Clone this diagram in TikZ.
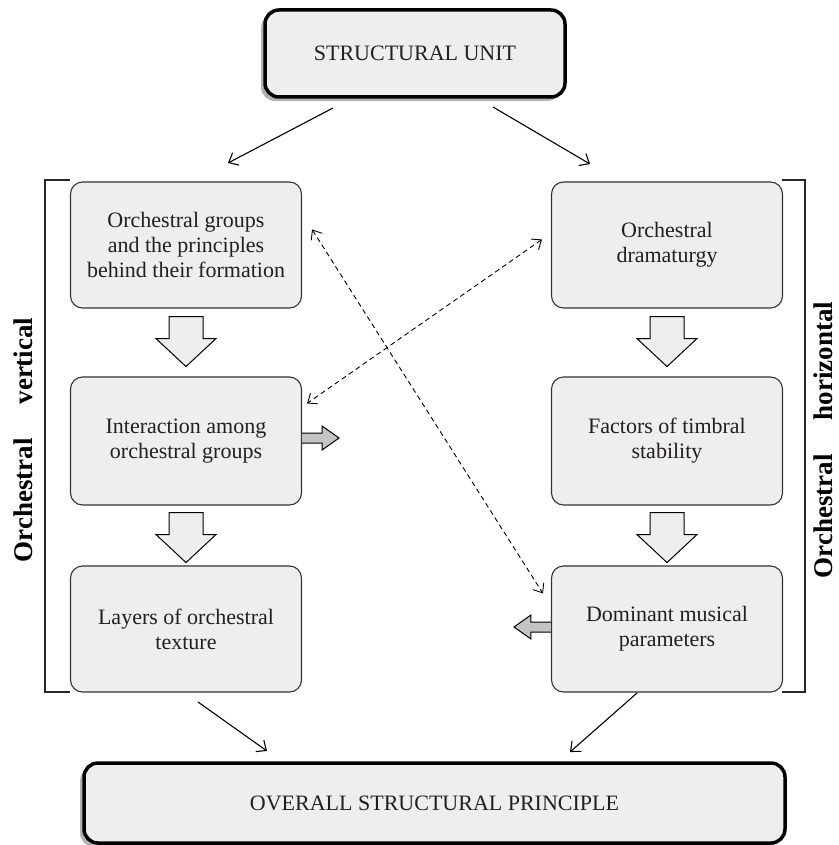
\documentclass[tikz,border=0pt]{standalone}
\usepackage{fontspec}
\setmainfont{Liberation Serif}
\usetikzlibrary{arrows.meta,calc,shadows}
\definecolor{boxfill}{HTML}{EEEEEE}
\definecolor{txt}{HTML}{231F20}
\definecolor{sidegray}{HTML}{C4C4C4}
\newcommand\bxfont{\fontsize{22}{25}\selectfont}
\newcommand\capsfnt{\fontsize{22}{25}\selectfont}
\newcommand\sidefnt{\fontsize{27}{30}\selectfont\bfseries}
\begin{document}
\begin{tikzpicture}[x=1pt,y=-1pt,
  box/.style={draw=black!80, line width=1.1pt, fill=boxfill, rounded corners=12pt,
    minimum width=231pt, minimum height=126pt, align=center, font=\bxfont, text=txt, inner sep=0pt},
  bigbox/.style={draw=black, line width=3.5pt, fill=boxfill, rounded corners=14pt,
    font=\capsfnt, text=txt, inner sep=0pt,
    general shadow={fill=gray!60, shadow xshift=-4pt, shadow yshift=-4pt}},
  conn/.style={line width=1.1pt, -{Straight Barb[length=8pt,width=14pt]}},
  dasharrow/.style={line width=0.9pt, dash pattern=on 5pt off 3.5pt,
    {Straight Barb[length=8pt,width=13pt]}-{Straight Barb[length=8pt,width=13pt]}},
  brk/.style={line width=1.1pt, draw=black!85},
  sidelab/.style={rotate=90, font=\sidefnt, text=black},
  downblk/.pic={\draw[line width=1pt, fill=boxfill, line join=miter]
     (-17,0) -- (-17,22) -- (-30,22) -- (0,50) -- (30,22) -- (17,22) -- (17,0) -- cycle;},
  leftblk/.pic={\draw[line width=1pt, fill=sidegray, line join=miter]
     (0,-5) -- (-20,-5) -- (-20,-12) -- (-37,0) -- (-20,12) -- (-20,5) -- (0,5);},
  rightblk/.pic={\draw[line width=1pt, fill=sidegray, line join=miter]
     (0,-5) -- (20,-5) -- (20,-12) -- (37,0) -- (20,12) -- (20,5) -- (0,5);}
]
\useasboundingbox (0,0) rectangle (838,845);

% top and bottom boxes
\node[bigbox, minimum width=300pt, minimum height=87pt] (top) at (415,53.5) {STRUCTURAL UNIT};
\node[bigbox, minimum width=701pt, minimum height=80pt] (bot) at (434.5,803) {OVERALL STRUCTURAL PRINCIPLE};

% left column
\node[box] (b1) at (186,245) {Orchestral groups\\and the principles\\behind their formation};
\node[box, minimum height=128pt] (b2) at (186,441) {Interaction among\\orchestral groups};
\node[box] (b3) at (186,629) {Layers of orchestral\\texture};
% right column
\node[box] (b4) at (667,245) {Orchestral\\dramaturgy};
\node[box, minimum height=128pt] (b5) at (667,441) {Factors of timbral\\stability};
\node[box] (b6) at (667,629) {Dominant musical\\parameters};

% brackets
\draw[brk] (70,180) -- (45,180) -- (45,692) -- (70,692);
\draw[brk] (782,180) -- (805,180) -- (805,692) -- (782,692);

% side labels
\node[sidelab] (lv) at (23,440) {Orchestral\hspace{34pt}vertical};
\node[sidelab] (rh) at (823,440) {Orchestral\hspace{34pt}horizontal};

% block arrows
\pic at ($(b1.south)+(0,8)$) {downblk};
\pic at ($(b2.south)+(0,7)$) {downblk};
\pic at ($(b4.south)+(0,8)$) {downblk};
\pic at ($(b5.south)+(0,7)$) {downblk};
\pic at ($(b2.east)+(0,-3)$) {rightblk};
\pic at ($(b6.west)+(0,-2)$) {leftblk};

% solid connectors
\coordinate (s1) at (333,108);
\coordinate (e1) at (228,163);
\coordinate (s2) at (493,107);
\coordinate (e2) at (590,164);
\coordinate (s3) at (198,702);
\coordinate (e3) at (267,751);
\coordinate (s4) at (637,693);
\coordinate (e4) at (570,752);
\draw[conn] (s1) -- (e1);
\draw[conn] (s2) -- (e2);
\draw[conn] (s3) -- (e3);
\draw[conn] (s4) -- (e4);

% dashed double arrows
\coordinate (d1a) at ($(b1.north east)+(10,48)$);
\coordinate (d1b) at ($(b6.north west)+(-8,28)$);
\coordinate (d2a) at ($(b4.north west)+(-9,58)$);
\coordinate (d2b) at ($(b2.north east)+(5,27)$);
\draw[dasharrow] (d1a) -- (d1b);
\draw[dasharrow] (d2a) -- (d2b);
\end{tikzpicture}
\end{document}
